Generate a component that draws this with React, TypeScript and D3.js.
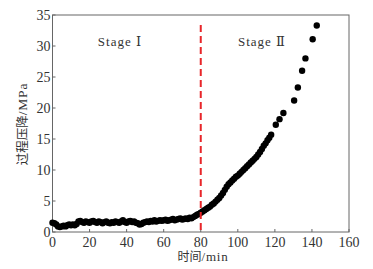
import React from "react";
import * as d3 from "d3";

const times: number[] = [
  0,1,2,3,4,5,6,7,8,9,10,11,12,13,14,15,16,17,18,19,20,21,22,23,24,25,26,27,28,29,
  30,31,32,33,34,35,36,37,38,39,40,41,42,43,44,45,46,47,48,49,50,51,52,53,54,55,56,57,58,59,
  60,61,62,63,64,65,66,67,68,69,70,71,72,73,74,75,76,77,78,79,80,
  81,82,83,84,85,86,87,88,89,90,91,92,93,94,95,96,97,98,99,100,
  101,102,103,104,105,106,107,108,109,110,111,112,113,114,115,116,117,118,
  120.5,122.5,124.6,130.4,132.4,134.7,136.5,140.4,142.6,
];
const pressures: number[] = [
  1.5,1.4,1.2,0.9,0.8,0.9,1.0,0.9,1.1,1.2,1.1,1.2,1.1,1.3,1.7,1.8,1.6,1.5,1.7,1.6,1.5,1.7,1.8,1.6,1.5,1.7,1.6,1.4,1.6,1.7,
  1.5,1.4,1.6,1.5,1.7,1.6,1.5,1.7,1.9,1.6,1.5,1.7,1.8,1.6,1.7,1.5,1.4,1.2,1.3,1.5,1.6,1.7,1.6,1.8,1.7,1.9,1.7,1.8,1.9,1.8,
  1.9,2.0,1.8,1.9,2.0,2.1,1.9,2.0,2.1,2.2,2.0,2.1,2.2,2.1,2.3,2.2,2.4,2.6,2.8,2.9,3.1,
  3.3,3.5,3.7,3.9,4.1,4.4,4.6,4.9,5.2,5.5,5.9,6.3,6.8,7.3,7.7,8.0,8.3,8.6,8.9,9.1,
  9.4,9.7,10.0,10.3,10.6,10.9,11.2,11.5,11.8,12.1,12.5,12.9,13.4,13.9,14.3,14.8,15.2,15.7,
  17.3,18.2,19.2,21.2,23.3,26.0,28.0,31.1,33.3,
];
const xTicks: number[] = [0, 20, 40, 60, 80, 100, 120, 140, 160];
const yTicks: number[] = [0, 5, 10, 15, 20, 25, 30, 35];
const stageTexts: string[] = ["Stage Ⅰ", "Stage Ⅱ"];
const stageX: number[] = [36.4, 113];
const stageY = 30;
const boundaryX = 80;
const boundaryTop = 33.4;

export default function App() {
  const W = 373, H = 269;
  const left = 52.5, right = 349, top = 15, bottom = 232;
  const x = d3.scaleLinear().domain([0, 160]).range([left, right]);
  const y = d3.scaleLinear().domain([0, 35]).range([bottom, top]);
  const serif = "Liberation Serif, Times New Roman, DejaVu Serif, serif";
  const cjk = "Noto Sans CJK SC, sans-serif";
  const axisColor = "#666";
  const textColor = "#333";
  return (
    <svg width={W} height={H} style={{ position: "absolute", left: 0, top: 0, background: "#fff" }}>
      <rect x={left} y={top} width={right - left} height={bottom - top} fill="none" stroke={axisColor} strokeWidth={1} />
      {xTicks.map((t) => (
        <g key={"x" + t}>
          <line x1={x(t)} x2={x(t)} y1={bottom} y2={bottom - 3} stroke={axisColor} />
          <text x={x(t)} y={bottom + 14.5} textAnchor="middle" fontFamily={serif} fontSize={14} fill={textColor}>{t}</text>
        </g>
      ))}
      {yTicks.map((t) => (
        <g key={"y" + t}>
          <line x1={left} x2={left + 3} y1={y(t)} y2={y(t)} stroke={axisColor} />
          <text x={left - 2} y={y(t) + 5} textAnchor="end" fontFamily={serif} fontSize={14} fill={textColor}>{t}</text>
        </g>
      ))}
      {times.map((t, i) => (
        <circle key={i} cx={x(t)} cy={y(pressures[i])} r={3.2} fill="#000" />
      ))}
      <line x1={x(boundaryX)} x2={x(boundaryX)} y1={y(boundaryTop)} y2={bottom} stroke="#e8262a" strokeWidth={2} strokeDasharray="7,4" />
      {stageTexts.map((s, i) => (
        <text key={s} x={x(stageX[i])} y={y(stageY)} textAnchor="middle" fontFamily={serif} fontSize={13} letterSpacing={1} fill={textColor}>{s}</text>
      ))}
      <text x={203} y={261} textAnchor="middle" fill={textColor}>
        <tspan fontFamily={cjk} fontSize={12}>时间</tspan><tspan fontFamily={serif} fontSize={13} letterSpacing={0.8}>/min</tspan>
      </text>
      <text transform={`translate(27,124) rotate(-90)`} textAnchor="middle" fill={textColor}>
        <tspan fontFamily={cjk} fontSize={12.5}>过程压降</tspan><tspan fontFamily={serif} fontSize={13.5} letterSpacing={0.8}>/MPa</tspan>
      </text>
    </svg>
  );
}
